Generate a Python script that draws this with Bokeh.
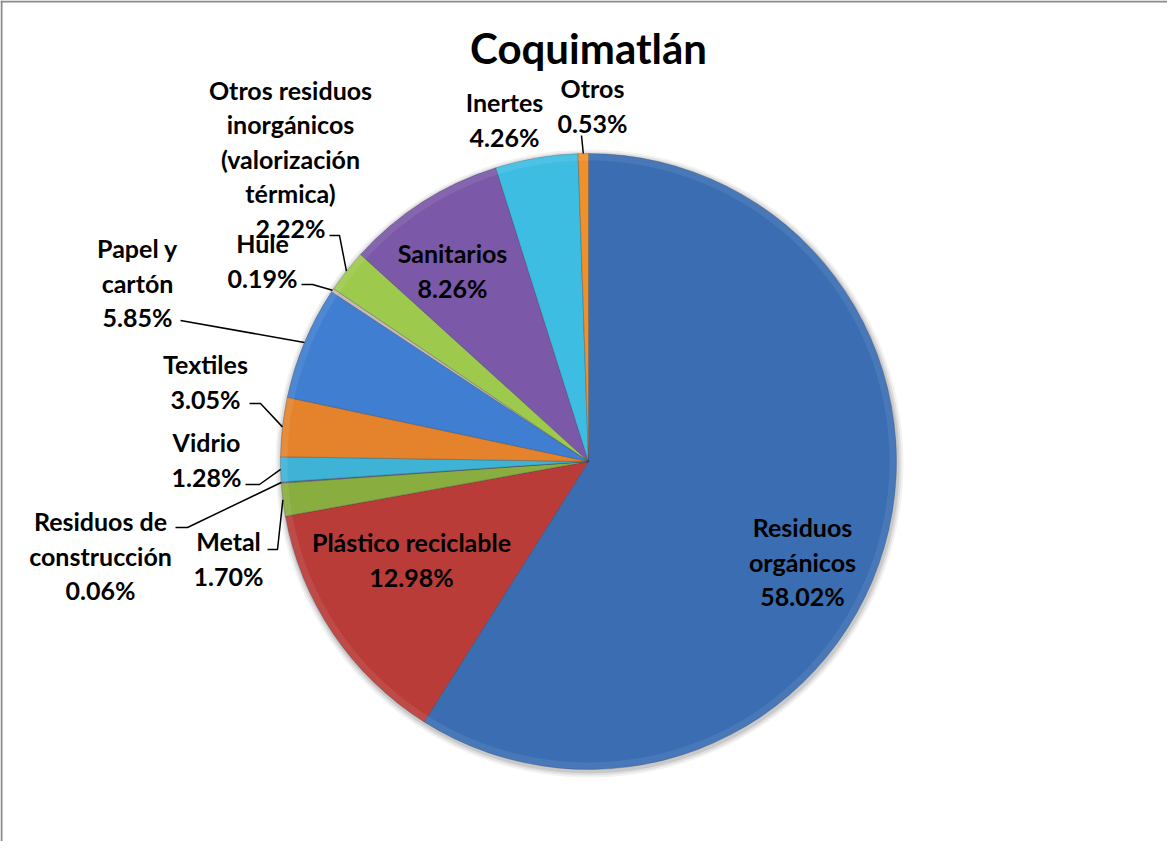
import math
from bokeh.plotting import figure
from bokeh.models import ColumnDataSource, Range1d, Span
from bokeh.core.properties import value
from bokeh.embed import file_html
from bokeh.resources import INLINE

# ---------------- data ----------------
title_text = "Coquimatlán"
categories = ["Residuos orgánicos", "Plástico reciclable", "Metal",
              "Residuos de construcción", "Vidrio", "Textiles",
              "Papel y cartón", "Hule",
              "Otros residuos inorgánicos (valorización térmica)",
              "Sanitarios", "Inertes", "Otros"]
values = [58.02, 12.98, 1.70, 0.06, 1.28, 3.05, 5.85, 0.19, 2.22, 8.26, 4.26, 0.53]
label_names = ["Residuos\norgánicos", "Plástico reciclable", "Metal",
               "Residuos de\nconstrucción", "Vidrio", "Textiles",
               "Papel y\ncartón", "Hule",
               "Otros residuos\ninorgánicos\n(valorización\ntérmica)",
               "Sanitarios", "Inertes", "Otros"]

# ---------------- styles / layout ----------------
colors = ["#3A6DB2", "#B93C38", "#89AD3E", "#7A5BA3", "#3FB3D6", "#E5822C",
          "#3F7ED0", "#C9B9B5", "#9DC94C", "#7B58A8", "#3EBDE2", "#F0902A"]
W, H = 1167, 841
OFFX, OFFY = 8, 8          # page margin

def sx(X):  # screen x -> data x
    return X - OFFX

def sy(Y):  # screen y -> data y
    return (H + OFFY) - Y

CX, CY, R = sx(596), sy(469), 308
# label block centres (screen coords)
label_pos = [(810, 569), (419, 567), (236, 566), (108, 563), (214, 467), (213, 389),
             (145, 290), (270, 268), (298, 166), (460, 278), (512, 127), (600, 113)]
# leader line start + elbow (screen coords); None = no leader
leader_pts = [None, None, [(275, 557), (285, 557)], [(183, 535), (195, 535)],
              [(253, 492), (267, 492)], [(257, 411), (268, 411)],
              [(188, 328), (188, 328)], [(309, 292), (320, 292)],
              [(337, 243), (347, 243)], None, None, [(589, 143), (589, 143)]]

FONT = "Lato"

p = figure(width=W, height=H, output_backend="svg", toolbar_location=None,
           x_range=Range1d(0, W), y_range=Range1d(0, H), min_border=0,
           match_aspect=False)
p.axis.visible = False
p.grid.visible = False
p.outline_line_color = None
p.background_fill_color = "white"
p.border_fill_color = "white"

# frame (left and top edges visible in the reference)
p.add_layout(Span(location=1, dimension="height", line_color="#8A8A8A", line_width=2))
p.add_layout(Span(location=H - 1, dimension="width", line_color="#8A8A8A", line_width=2))

# wedges
total = sum(values)
starts, ends, mids = [], [], []
cum = 0.0
for v in values:
    a0 = cum / total * 2 * math.pi
    cum += v
    a1 = cum / total * 2 * math.pi
    # clockwise from top -> bokeh anticlockwise from +x
    starts.append(math.pi / 2 - a1)
    ends.append(math.pi / 2 - a0)
    mids.append((a0 + a1) / 2)

# soft shadow
for dr, al in [(6, 0.05), (4, 0.07), (2, 0.10)]:
    p.circle(x=[CX + 1], y=[CY - 2], radius=R + dr, fill_color="#000000",
             fill_alpha=al, line_color=None)

src = ColumnDataSource(dict(start=starts, end=ends, color=colors, cat=categories, val=values))
p.wedge(x=CX, y=CY, radius=R, start_angle="start", end_angle="end",
        direction="anticlock", fill_color="color", line_color="#1F2F45",
        line_alpha=0.25, line_width=1, source=src)
# subtle bevel: light outer ring, darker inner edge
p.annulus(x=[CX], y=[CY], inner_radius=R - 7, outer_radius=R,
          fill_color="#FFFFFF", fill_alpha=0.08, line_color=None)

# leader lines
for i, lp in enumerate(leader_pts):
    if lp is None:
        continue
    ex = CX + R * math.sin(mids[i])
    ey = CY + R * math.cos(mids[i])
    xs = [sx(lp[0][0]), sx(lp[1][0]), ex]
    ys = [sy(lp[0][1]), sy(lp[1][1]), ey]
    p.line(xs, ys, line_color="black", line_width=1.5)

# labels
texts = [f"{n}\n{v:.2f}%" for n, v in zip(label_names, values)]
lsrc = ColumnDataSource(dict(x=[sx(a) for a, b in label_pos],
                             y=[sy(b) for a, b in label_pos], t=texts))
p.text(x="x", y="y", text="t", source=lsrc, text_align="center",
       text_baseline="middle", text_font=value(FONT), text_font_style="bold",
       text_font_size="25px", text_line_height=1.15, text_color="black")

# title
p.text(x=[sx(596)], y=[sy(55)], text=[title_text], text_align="center",
       text_baseline="middle", text_font=value(FONT), text_font_style="bold",
       text_font_size="42px", text_color="black")

open("out.html", "w").write(file_html(p, INLINE))
